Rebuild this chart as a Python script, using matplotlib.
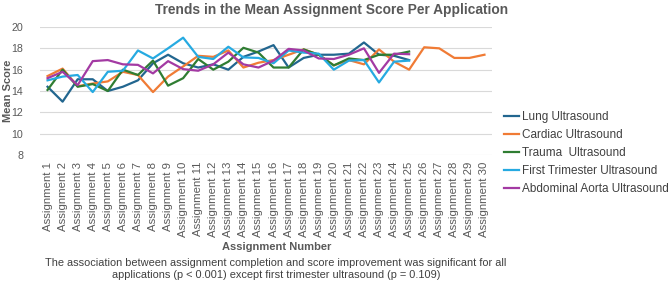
import matplotlib
matplotlib.use("Agg")
import matplotlib.pyplot as plt
import numpy as np

# assignment labels on the x axis
assignments = ["Assignment %d" % i for i in range(1, 31)]

# mean score per assignment
lung = [14.4, 13.0, 15.1, 15.1, 14.0, 14.4, 15.0, 16.6, 17.4, 16.6,
        16.2, 16.5, 16.0, 17.2, 17.7, 18.3, 16.2, 17.1, 17.4, 17.4,
        17.5, 18.55, 17.4, 17.3, 16.9]
cardiac = [15.4, 16.1, 14.45, 14.7, 14.9, 15.8, 15.5, 13.9, 15.35, 16.3,
           17.3, 17.2, 17.8, 16.2, 16.65, 16.9, 17.4, 17.9, 17.4, 16.4,
           16.9, 16.5, 17.9, 16.75, 16.0, 18.1, 18.0, 17.1, 17.1, 17.4]
trauma = [14.1, 16.0, 14.4, 14.65, 14.0, 16.0, 15.5, 16.85, 14.5, 15.2,
          17.0, 16.0, 16.75, 18.05, 17.6, 16.2, 16.2, 17.9, 17.4, 16.4,
          17.05, 16.9, 17.4, 17.4, 17.7]
first_trimester = [15.0, 15.35, 15.5, 13.9, 15.8, 15.9, 17.8, 17.05, 18.0, 19.0,
                   17.2, 17.0, 18.15, 17.15, 17.1, 16.6, 17.8, 17.6, 17.5, 16.0,
                   16.85, 16.9, 14.8, 16.75, 16.85]
abdominal_aorta = [15.2, 15.8, 14.55, 16.8, 16.9, 16.5, 16.45, 15.65, 16.8, 16.05,
                   15.9, 16.5, 17.6, 16.5, 16.2, 16.85, 17.95, 17.8, 17.05, 17.0,
                   17.4, 18.0, 15.7, 17.5, 17.45]

series = [
    ("Lung Ultrasound", lung, "#22668f"),
    ("Cardiac Ultrasound", cardiac, "#f07b35"),
    ("Trauma  Ultrasound", trauma, "#2f7d32"),
    ("First Trimester Ultrasound", first_trimester, "#26aae1"),
    ("Abdominal Aorta Ultrasound", abdominal_aorta, "#a33aa3"),
]

plt.rcParams['font.family'] = ['Liberation Sans', 'DejaVu Sans']
grey = "#595959"

fig = plt.figure(figsize=(6.69, 2.83), dpi=100)
ax = fig.add_axes([40 / 669, 1 - 155 / 283, 452 / 669, 128 / 283])

x = np.arange(len(assignments))
for name, vals, col in series:
    ax.plot(x[:len(vals)], vals, color=col, lw=1.6, label=name)

ax.set_xlim(-0.5, len(assignments) - 0.5)
ax.set_ylim(8, 20)
ax.set_yticks(np.arange(8, 21, 2))
ax.set_xticks(x)
ax.set_xticklabels(assignments, rotation=90, fontsize=8.2, color=grey)
ax.tick_params(axis="y", labelsize=7.7, labelcolor=grey, length=0, pad=12)
ax.tick_params(axis="x", length=0, pad=5)
ax.grid(axis="y", color="#d9d9d9", lw=0.8)
ax.set_axisbelow(True)
for s in ax.spines.values():
    s.set_visible(False)

ax.set_ylabel("Mean Score", fontsize=8, fontweight="bold", color=grey)
ax.yaxis.set_label_coords(-0.06, 0.5)
fig.text(332 / 669, 1 - 10 / 283, "Trends in the Mean Assignment Score Per Application",
         ha="center", va="center", fontsize=9.9, fontweight="bold", color=grey)
fig.text(277 / 669, 1 - 247 / 283, "Assignment Number",
         ha="center", va="center", fontsize=8, fontweight="bold", color=grey)
fig.text(276 / 669, 1 - 269 / 283,
         "The association between assignment completion and score improvement was significant for all\n"
         "applications (p < 0.001) except first trimester ultrasound (p = 0.109)",
         ha="center", va="center", fontsize=7.9, color="#404040", linespacing=1.3)

leg = ax.legend(loc="center left", bbox_to_anchor=(1.0, 1 - 126 / 128), frameon=False,
                fontsize=8.5, handlelength=1.3, handletextpad=0.2, labelspacing=0.5,
                borderaxespad=0.6)
for t in leg.get_texts():
    t.set_color("#404040")

fig.savefig("out.png", dpi=100)
